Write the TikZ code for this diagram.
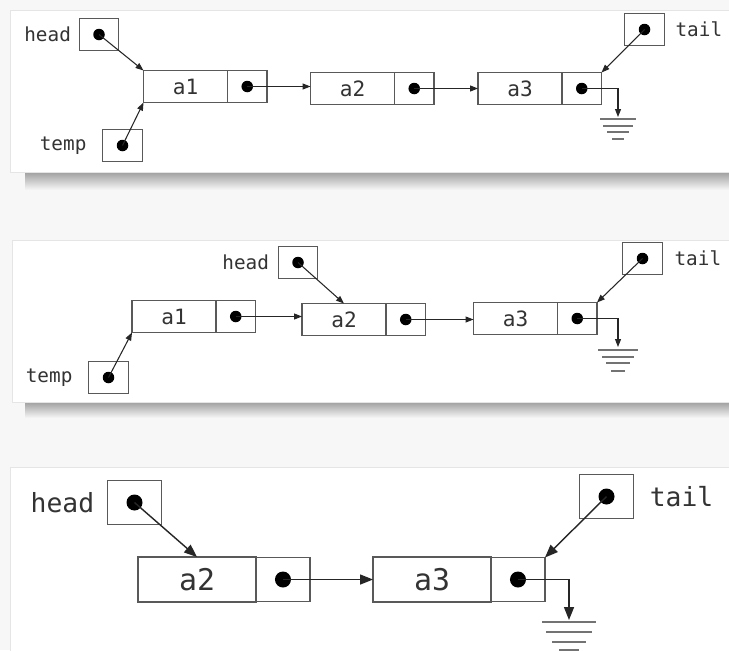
\documentclass[tikz,border=0pt]{standalone}
\usepackage{fontspec}
\setmonofont{DejaVu Sans Mono}
\usetikzlibrary{positioning,arrows.meta}

\begin{document}
\begin{tikzpicture}[x=0.02cm,y=-0.02cm,
        linea/.style={draw=black!65,line width=0.6pt,outer sep=0pt,inner sep=0pt},
        dato/.style={linea,minimum width=1.68cm,minimum height=0.64cm,text=black!80,font=\fontsize{12}{12}\selectfont\ttfamily},
        punt/.style={linea,minimum width=0.79cm,minimum height=0.64cm,path picture={\fill[black] (path picture bounding box.center) circle (0.115cm);}},
        nome/.style={inner sep=0pt,text=black!80,font=\fontsize{11}{11}\selectfont\ttfamily},
        freccia/.style={-{Triangle[length=1.6mm,width=1.2mm]},line width=0.6pt,draw=black!85},
        terra/.style={line width=0.9pt,draw=black!55},
        riquadro/.style={fill=white,draw=gray!20},
        ombra/.style={top color=gray!75,bottom color=gray!6,draw=none}]
    \useasboundingbox (0,0) rectangle (729,650);
    % sfondo e riquadri
    \fill[gray!6] (0,0) rectangle (729,650);
    \shade[ombra] (25,172) rectangle (740,190);
    \shade[ombra] (25,402) rectangle (740,418);
    \draw[riquadro] (10,10) rectangle (740,172);
    \draw[riquadro] (12,240) rectangle (740,402);
    \draw[riquadro] (10,467) rectangle (740,660);

    % primo riquadro: head e temp su a1
    \node[dato] (a1) at (185.5,86.5) {a1};\node[punt,right=0pt of a1] (a1n) {};
    \node[dato] (a2) at (352.5,88.5) {a2};\node[punt,right=0pt of a2] (a2n) {};
    \node[dato] (a3) at (520,88.5) {a3};\node[punt,right=0pt of a3] (a3n) {};
    \node[punt] (head1) at (99,34.5) {};\node[nome,left=0.16cm of head1] (lhead1) {head};
    \node[punt] (temp1) at (122.5,145.5) {};\node[nome,left=0.32cm of temp1] (ltemp1) {temp};
    \node[punt] (tail1) at (644.5,29.5) {};\node[nome,right=0.22cm of tail1] (ltail1) {tail};
    \coordinate (g1) at (618,117);
    \draw[freccia] (head1.center) -- (a1.north west);
    \draw[freccia] (temp1.center) -- (a1.south west);
    \draw[freccia] (a1n.center) -- (a1n.center -| a2.west);
    \draw[freccia] (a2n.center) -- (a2n.center -| a3.west);
    \draw[freccia] (tail1.center) -- (a3n.north east);
    \draw[freccia] (a3n.center) -| (g1);
    \draw[terra] (g1) ++(-18,2) -- ++(36,0) (g1) ++(-15,9) -- ++(30,0)
        (g1) ++(-11,15) -- ++(22,0) (g1) ++(-6,22) -- ++(12,0);

    % secondo riquadro: head passa ad a2
    \node[dato] (b1) at (174,316.5) {a1};\node[punt,right=0pt of b1] (b1n) {};
    \node[dato] (b2) at (344,319.5) {a2};\node[punt,right=0pt of b2] (b2n) {};
    \node[dato] (b3) at (515.5,318.5) {a3};\node[punt,right=0pt of b3] (b3n) {};
    \node[punt] (head2) at (298,262.5) {};\node[nome,left=0.18cm of head2] (lhead2) {head};
    \node[punt] (temp2) at (108.5,377.5) {};\node[nome,left=0.32cm of temp2] (ltemp2) {temp};
    \node[punt] (tail2) at (642.5,258.5) {};\node[nome,right=0.24cm of tail2] (ltail2) {tail};
    \coordinate (g2) at (618,347);
    \draw[freccia] (head2.center) -- (b2.north);
    \draw[freccia] (temp2.center) -- (b1.south west);
    \draw[freccia] (b1n.center) -- (b1n.center -| b2.west);
    \draw[freccia] (b2n.center) -- (b2n.center -| b3.west);
    \draw[freccia] (tail2.center) -- (b3n.north east);
    \draw[freccia] (b3n.center) -| (g2);
    \draw[terra] (g2) ++(-20,3) -- ++(40,0) (g2) ++(-16,10) -- ++(32,0)
        (g2) ++(-12,16) -- ++(24,0) (g2) ++(-7,24) -- ++(14,0);

    % terzo riquadro: a1 tolto
    \begin{scope}[dato/.append style={minimum width=2.36cm,minimum height=0.9cm,font=\fontsize{17}{17}\selectfont\ttfamily},
        punt/.append style={minimum width=1.08cm,minimum height=0.88cm,path picture={\fill[black] (path picture bounding box.center) circle (0.16cm);}},
        nome/.append style={font=\fontsize{15}{15}\selectfont\ttfamily},
        freccia/.append style={-{Triangle[length=2.6mm,width=2mm]},line width=0.8pt},
        linea/.append style={line width=0.8pt}]
    \node[dato] (c2) at (197,579.5) {a2};\node[punt,right=0pt of c2] (c2n) {};
    \node[dato] (c3) at (432,579.5) {a3};\node[punt,right=0pt of c3] (c3n) {};
    \node[punt] (head3) at (134.5,502.5) {};\node[nome,left=0.26cm of head3] (lhead3) {head};
    \node[punt] (tail3) at (606.5,496.5) {};\node[nome,right=0.32cm of tail3] (ltail3) {tail};
    \coordinate (g3) at (569,620);
    \draw[freccia] (head3.center) -- (c2.north);
    \draw[freccia] (c2n.center) -- (c2n.center -| c3.west);
    \draw[freccia] (tail3.center) -- (c3n.north east);
    \draw[freccia] (c3n.center) -| (g3);
    \draw[terra,line width=1.1pt] (g3) ++(-27,2) -- ++(54,0) (g3) ++(-23,12) -- ++(46,0)
        (g3) ++(-17,22) -- ++(34,0) (g3) ++(-10,30) -- ++(20,0);
    \end{scope}
\end{tikzpicture}
\end{document}
